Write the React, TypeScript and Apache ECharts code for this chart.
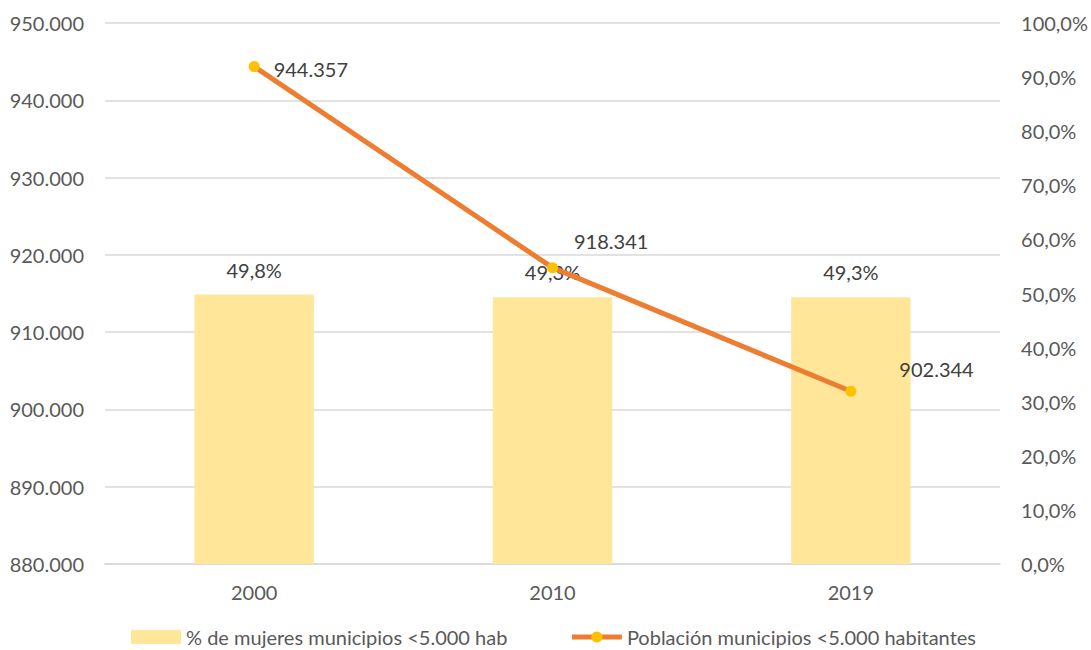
import React, { useEffect, useRef } from "react";
import * as echarts from "echarts";

const categories = ["2000", "2010", "2019"];
const pctWomen = [0.498, 0.493, 0.493];
const population = [944357, 918341, 902344];
const leftTicks = { min: 880000, max: 950000, interval: 10000 };
const rightTicks = { min: 0, max: 1, interval: 0.1 };

const fmtThousands = (v: number) =>
  String(Math.round(v)).replace(/\B(?=(\d{3})+(?!\d))/g, ".");
const fmtPct = (v: number) => (v * 100).toFixed(1).replace(".", ",") + "%";

const lineLabelOffsets = [
  [9, 2],
  [11, -27],
  [38, -22],
];

export default function App() {
  const ref = useRef<HTMLDivElement>(null);
  useEffect(() => {
    const chart = echarts.init(ref.current!, null, { renderer: "svg" });
    const font = "Lato, 'Open Sans', sans-serif";
    chart.setOption({
      animation: false,
      textStyle: { fontFamily: font },
      grid: { left: 105, right: 90, top: 23, bottom: 86 },
      legend: {
        bottom: -2,
        left: 126,
        itemGap: 62,
        itemWidth: 50,
        itemHeight: 14,
        textStyle: { fontSize: 20, color: "#595959", fontFamily: font },
        data: [
          { name: "% de mujeres municipios <5.000 hab", icon: "rect" },
          {
            name: "Población municipios <5.000 habitantes",
            itemStyle: { color: "#FFC000" },
            lineStyle: { color: "#ED7D31", width: 5 },
          },
        ],
      },
      xAxis: {
        type: "category",
        data: categories,
        axisLine: { lineStyle: { color: "#d9d9d9", width: 1.5 } },
        axisTick: { show: false },
        axisLabel: { fontSize: 20, color: "#595959", margin: 18 },
      },
      yAxis: [
        {
          type: "value",
          ...leftTicks,
          position: "left",
          axisLabel: { fontSize: 20, color: "#595959", formatter: fmtThousands, margin: 21 },
          axisLine: { show: false },
          axisTick: { show: false },
          splitLine: { lineStyle: { color: "#d9d9d9", width: 1.5 } },
        },
        {
          type: "value",
          ...rightTicks,
          position: "right",
          axisLabel: { fontSize: 20, color: "#595959", formatter: fmtPct, margin: 21 },
          axisLine: { show: false },
          axisTick: { show: false },
          splitLine: { show: false },
        },
      ],
      series: [
        {
          name: "% de mujeres municipios <5.000 hab",
          type: "bar",
          yAxisIndex: 1,
          data: pctWomen,
          barWidth: "40%",
          itemStyle: { color: "#FFE699" },
          label: {
            show: true,
            position: "top",
            distance: 15,
            fontSize: 20,
            color: "#404040",
            formatter: (p: any) => fmtPct(p.value),
          },
        },
        {
          name: "Población municipios <5.000 habitantes",
          type: "line",
          yAxisIndex: 0,
          data: population.map((v, i) => ({
            value: v,
            label: { position: "right", offset: lineLabelOffsets[i] },
          })),
          lineStyle: { color: "#ED7D31", width: 5 },
          itemStyle: { color: "#FFC000" },
          symbol: "circle",
          symbolSize: 11,
          label: {
            show: true,
            position: "right",
            fontSize: 20,
            color: "#404040",
            formatter: (p: any) => fmtThousands(p.value),
          },
        },
      ],
    });
    return () => chart.dispose();
  }, []);
  return (
    <div
      ref={ref}
      style={{ position: "fixed", left: 0, top: 0, width: 1091, height: 650, background: "#fff" }}
    />
  );
}
